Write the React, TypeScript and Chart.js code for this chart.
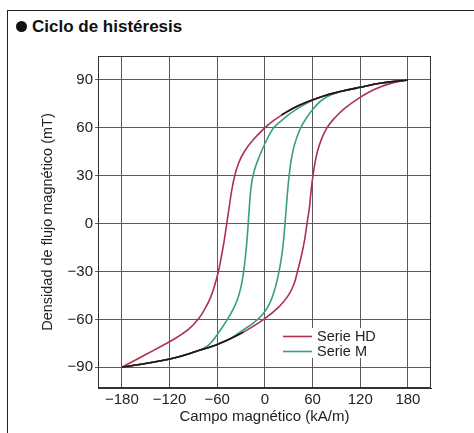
import { useEffect, useRef } from "react";
import { Chart, registerables } from "chart.js";

Chart.register(...registerables);

const FONT = '"Liberation Sans", Arial, Helvetica, sans-serif';

// Axis ticks
const xTicks = [-180, -120, -60, 0, 60, 120, 180];
const yTicks = [-90, -60, -30, 0, 30, 60, 90];

// Serie HD — descending branch (H from +180 to -180)
const hdDescH = [180, 145, 120, 95, 74, 52, 34.5, 21, 9.5, 0, -15.5, -26, -33, -38, -42, -45, -48, -51, -54.5, -58.5, -64, -69, -75, -84, -95.5, -113, -140, -161, -180];
const hdDescB = [90, 87.9, 85.4, 82.7, 80, 76, 72, 68, 64, 60, 52, 45, 38, 30, 20, 10, 0, -10, -20, -30, -40, -47, -53, -60, -66, -72, -79.4, -85, -90];

// Serie HD — ascending branch (H from -180 to +180)
const hdAscH = [-180, -143, -113, -86, -61.5, -43, -27, -1.5, 18, 29.5, 36.5, 41, 46, 50, 53, 56, 58, 60.5, 63, 66, 70.5, 78, 87.5, 100, 116.5, 137.5, 159.5, 180];
const hdAscB = [-90, -87, -84, -80, -76, -72, -68, -60, -52, -45, -38, -30, -20, -10, 0, 10, 20, 30, 38, 45, 52, 60, 66, 72, 78, 84, 88, 90];

// Serie M — descending branch
const mDescH = [180, 145, 120, 95, 74, 58, 44, 32, 22, 15, 11, 6, 0, -7, -12.3, -15.8, -18, -19.6, -21, -22.5, -24.4, -26.7, -29.4, -32.9, -38.3, -44.8, -52.3, -57.9, -65, -73, -86, -113, -143, -180];
const mDescB = [90, 87.9, 85.4, 82.7, 80, 76.8, 73, 69, 65, 62, 60, 56, 50, 42, 35, 28, 20, 10, 0, -10, -20, -30, -38, -45, -52, -58, -64, -68, -73, -77, -80, -84, -87, -90];

// Serie M — ascending branch
const mAscH = [-180, -143, -113, -86, -61.5, -43, -30, -15, -3, 6, 12, 16.5, 20, 22.5, 24.3, 25.8, 27.2, 28.7, 30.5, 32.7, 35.5, 39.5, 45, 52, 62, 74, 95, 120, 145, 180];
const mAscB = [-90, -87, -84, -80, -76, -72, -67.5, -62.5, -57, -50, -42, -33, -24, -15, -6, 3, 12, 21, 30, 38.5, 46, 53, 60, 66, 72.6, 78.2, 82.7, 85.4, 87.9, 90];

// Common (saturation) segments drawn in black
const blackTopH = [21, 34.5, 52, 74, 95, 120, 145, 180];
const blackTopB = [68, 72, 76, 80, 82.7, 85.4, 87.9, 90];
const blackBotH = [-180, -143, -113, -86, -61.5, -43, -27];
const blackBotB = [-90, -87, -84, -80, -76, -72, -68];

const RED = "#ae324b";
const GREEN = "#3a9e86";
const BLACK = "#1a1a1a";

const legendItems = [
  { label: "Serie HD", color: RED },
  { label: "Serie M", color: GREEN },
];

const pts = (h: number[], b: number[]) => h.map((v, i) => ({ x: v, y: b[i] }));
const fmt = (v: number) => (v < 0 ? "\u2212" + Math.abs(v) : String(v));

export default function App() {
  const ref = useRef<HTMLCanvasElement>(null);

  useEffect(() => {
    document.body.style.margin = "0";
    const canvas = ref.current!;
    const line = (data: { x: number; y: number }[], color: string, order: number) => ({
      data,
      showLine: true,
      borderColor: color,
      backgroundColor: color,
      borderWidth: 1.6,
      pointRadius: 0,
      pointHoverRadius: 0,
      tension: 0.4,
      fill: false,
      order,
    });

    const framePlugin = {
      id: "frameLegend",
      beforeDatasetsDraw(chart: any) {
        const { ctx, chartArea: a } = chart;
        ctx.save();
        ctx.strokeStyle = "#333";
        ctx.lineWidth = 1;
        ctx.strokeRect(a.left + 0.5, a.top + 0.5, a.right - a.left - 1, a.bottom - a.top - 1);
        ctx.restore();
      },
      afterDatasetsDraw(chart: any) {
        const { ctx, chartArea: a } = chart;
        ctx.save();
        const bx = a.left + 181;
        const by = a.top + 272;
        ctx.fillStyle = "#fff";
        ctx.fillRect(bx, by, 99, 30);
        ctx.font = `14.5px ${FONT}`;
        ctx.textBaseline = "middle";
        ctx.textAlign = "left";
        legendItems.forEach((it, i) => {
          const y = by + 8.5 + i * 15;
          ctx.strokeStyle = it.color;
          ctx.lineWidth = 1.6;
          ctx.beginPath();
          ctx.moveTo(bx + 4, y);
          ctx.lineTo(bx + 33, y);
          ctx.stroke();
          ctx.fillStyle = "#222";
          ctx.fillText(it.label, bx + 38, y);
        });
        ctx.restore();
      },
    };

    const chart = new Chart(canvas, {
      type: "scatter",
      data: {
        datasets: [
          line(pts(blackTopH, blackTopB), BLACK, 0),
          line(pts(blackBotH, blackBotB), BLACK, 0),
          line(pts(hdDescH, hdDescB), RED, 1),
          line(pts(hdAscH, hdAscB), RED, 1),
          line(pts(mDescH, mDescB), GREEN, 2),
          line(pts(mAscH, mAscB), GREEN, 2),
        ],
      },
      options: {
        responsive: false,
        animation: false,
        events: [],
        layout: { padding: { top: 56, right: 43, bottom: 4, left: 35 } },
        plugins: {
          legend: { display: false },
          tooltip: { enabled: false },
          title: { display: false },
        },
        scales: {
          x: {
            type: "linear",
            min: -210,
            max: 209,
            afterBuildTicks: (s: any) => {
              s.ticks = xTicks.map((v) => ({ value: v }));
            },
            afterFit: (s: any) => {
              s.height = 41;
            },
            grid: { color: "#5a5a5a", lineWidth: 1, drawTicks: false },
            border: { color: "#333", width: 1 },
            ticks: {
              autoSkip: false,
              maxRotation: 0,
              padding: 3,
              color: "#222",
              font: { family: FONT, size: 15 },
              callback: (v: any) => fmt(Number(v)),
            },
            title: {
              display: true,
              text: "Campo magnético (kA/m)",
              color: "#222",
              font: { family: FONT, size: 15 },
              padding: { top: 2, bottom: 3 },
            },
          },
          y: {
            type: "linear",
            min: -103,
            max: 105,
            afterBuildTicks: (s: any) => {
              s.ticks = yTicks.map((v) => ({ value: v }));
            },
            afterFit: (s: any) => {
              s.width = 63;
            },
            grid: { color: "#5a5a5a", lineWidth: 1, drawTicks: true, tickLength: 3 },
            border: { color: "#333", width: 1 },
            ticks: {
              autoSkip: false,
              padding: 2,
              color: "#222",
              font: { family: FONT, size: 15 },
              callback: (v: any) => fmt(Number(v)),
            },
            title: {
              display: true,
              text: "Densidad de flujo magnético (mT)",
              color: "#222",
              font: { family: FONT, size: 14.5 },
              padding: { top: 4, bottom: 2 },
            },
          },
        },
      },
      plugins: [framePlugin],
    } as any);

    return () => chart.destroy();
  }, []);

  return (
    <div
      style={{
        position: "relative",
        width: 474,
        height: 433,
        overflow: "hidden",
        background: "#fff",
        fontFamily: FONT,
      }}
    >
      <div
        style={{
          position: "absolute",
          left: 7,
          top: 10,
          right: -2,
          bottom: -2,
          borderLeft: "1.5px solid #222",
          borderTop: "1.5px solid #222",
        }}
      />
      <div
        style={{
          position: "absolute",
          left: 16,
          top: 21,
          width: 11,
          height: 11,
          borderRadius: "50%",
          background: "#111",
        }}
      />
      <div
        style={{
          position: "absolute",
          left: 32,
          top: 17,
          fontSize: 17,
          lineHeight: "20px",
          fontWeight: "bold",
          color: "#111",
          whiteSpace: "nowrap",
        }}
      >
        Ciclo de histéresis
      </div>
      <canvas
        ref={ref}
        width={474}
        height={433}
        style={{ position: "absolute", left: 0, top: 0, width: 474, height: 433 }}
      />
    </div>
  );
}
